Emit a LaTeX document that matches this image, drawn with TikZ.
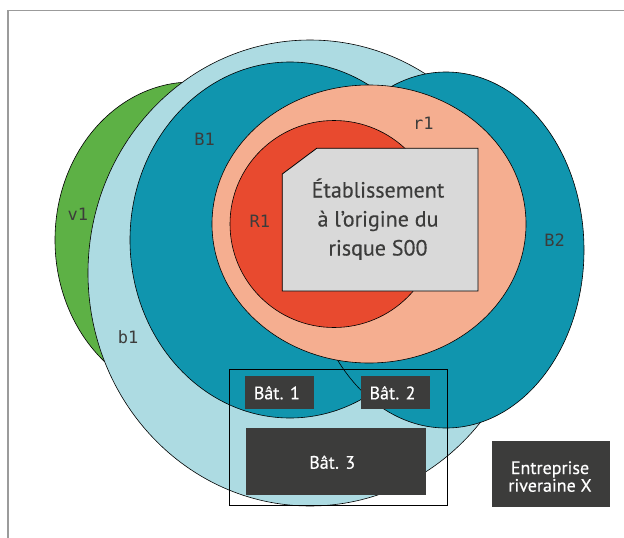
\documentclass[tikz,border=0pt]{standalone}
\usepackage{fontspec}
\setmainfont{PT Sans}
\newfontfamily\medfont{PT Sans}[FakeBold=0.35]
\newfontfamily\labelfont{DejaVu Sans Mono}
\usetikzlibrary{shapes.geometric}
\definecolor{cgreen}{HTML}{5DB145}
\definecolor{clblue}{HTML}{ADDBE2}
\definecolor{cteal}{HTML}{1095AE}
\definecolor{csalmon}{HTML}{F5AE90}
\definecolor{cred}{HTML}{E84A2F}
\definecolor{cgray}{HTML}{D9D9D9}
\definecolor{cdark}{HTML}{3C3C3B}
\definecolor{cframe}{HTML}{9B9B9B}
\tikzset{
  zone/.style={ellipse, draw=black, line width=0.6pt, inner sep=0pt},
  lbl/.style={text=cdark, font=\labelfont\fontsize{17}{20}\selectfont, inner sep=0pt, anchor=base},
  darkbox/.style={fill=cdark, draw=none},
  boxtext/.style={text=white, font=\medfont\fontsize{18}{17.7}\selectfont, align=center, inner sep=0pt, anchor=base},
}
\begin{document}
\begin{tikzpicture}[x=1pt,y=-1pt]
\useasboundingbox (0,0) rectangle (624,538);
\fill[white] (0,0) rectangle (624,538);
\draw[cframe, line width=1.6pt] (7.7,540) -- (7.7,10.3) -- (626,10.3);
% zones
\node[zone, fill=cgreen, minimum width=274pt, minimum height=316pt] (v1) at (192,240) {};
\node[zone, fill=clblue, minimum width=444pt, minimum height=466pt] (b1z) at (310,273) {};
\node[zone, fill=cteal, minimum width=320pt, minimum height=356pt] (B1z) at (290,240) {};
\node[zone, fill=cteal, minimum width=276pt, minimum height=356pt] (B2z) at (446,250) {};
\node[zone, fill=csalmon, minimum width=314pt, minimum height=278pt] (r1z) at (369,224) {};
\node[zone, fill=cred, minimum width=208pt, minimum height=207pt] (R1z) at (334,224) {};
% establishment
\draw[fill=cgray, line width=0.8pt] (282.3,174) -- (316.7,148.3) -- (478,148.3) -- (478,291) -- (282.3,291) -- cycle;
\node[text=cdark, font=\medfont\fontsize{22}{29}\selectfont, align=center, inner sep=0pt, anchor=base] (etab) at (378,255.5) {Établissement\\à l’origine du\\risque S00};
% labels
\node[lbl] (lB1) at (204.5,145.7) {B1};
\node[lbl] (lr1) at (423.3,129) {r1};
\node[lbl] (lv1) at (77.8,220.7) {v1};
\node[lbl] (lR1) at (259.8,227.3) {R1};
\node[lbl] (lB2) at (554.5,246.7) {B2};
\node[lbl] (lb1) at (128,343) {b1};
% site frame
\draw[black, line width=0.9pt] (229,369) rectangle (447,505.3);
% buildings
\fill[darkbox] (245,376) rectangle (314,408.7);
\node[boxtext] (bat1) at (276.8,399.3) {Bât. 1};
\fill[darkbox] (361,376) rectangle (430,408.7);
\node[boxtext] (bat2) at (392.5,399.3) {Bât. 2};
\fill[darkbox] (245.7,428) rectangle (426,495);
\node[boxtext] (bat3) at (332.2,468.7) {Bât. 3};
\fill[darkbox] (492,441) rectangle (610,506.7);
\node[boxtext] (entr) at (550,491.7) {Entreprise\\riveraine X};
\end{tikzpicture}
\end{document}
